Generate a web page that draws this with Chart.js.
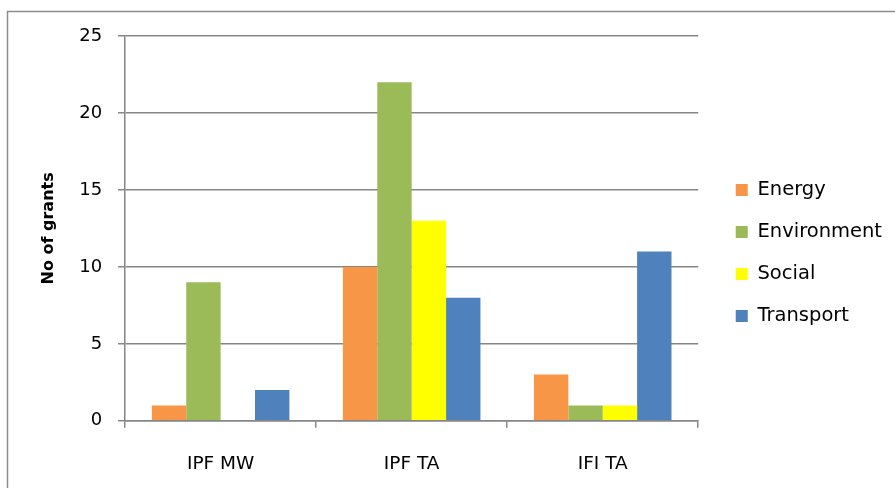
<!DOCTYPE html>
<html>
<head>
<meta charset="utf-8">
<script src="https://cdn.jsdelivr.net/npm/chart.js@4.4.1/dist/chart.umd.min.js"></script>
<style>
html,body{margin:0;padding:0;background:#fff;}
#wrap{width:895px;height:488px;position:relative;}
</style>
</head>
<body>
<div id="wrap"><canvas id="c" width="895" height="488"></canvas></div>
<script>
const categories = ["IPF MW", "IPF TA", "IFI TA"];
const energy = [1, 10, 3];
const environment = [9, 22, 1];
const social = [0, 13, 1];
const transport = [2, 8, 11];
const yTicks = [0, 5, 10, 15, 20, 25];

const LEGEND_SHIFT_X = 15;
const LEGEND_SHIFT_Y = -15;
const frame = {
  id: 'frame',
  beforeDraw(chart) {
    const ctx = chart.ctx;
    if (chart.legend && !chart.legend._shifted) {
      const lg = chart.legend;
      const orig = lg.draw.bind(lg);
      lg.draw = function () {
        lg.ctx.save();
        lg.ctx.translate(LEGEND_SHIFT_X, LEGEND_SHIFT_Y);
        orig();
        lg.ctx.restore();
      };
      lg._shifted = true;
    }
    ctx.save();
    ctx.fillStyle = '#fff';
    ctx.fillRect(0, 0, chart.width, chart.height);
    ctx.strokeStyle = '#8c8c8c';
    ctx.lineWidth = 1.5;
    ctx.strokeRect(7.5, 11.5, chart.width + 20, chart.height + 20);
    ctx.restore();
  }
};

const gridColor = '#868686';
new Chart(document.getElementById('c'), {
  type: 'bar',
  data: {
    labels: categories,
    datasets: [
      { label: 'Energy', data: energy, backgroundColor: '#F79646' },
      { label: 'Environment', data: environment, backgroundColor: '#9BBB59' },
      { label: 'Social', data: social, backgroundColor: '#FFFF00' },
      { label: 'Transport', data: transport, backgroundColor: '#4F81BD' }
    ]
  },
  options: {
    responsive: false,
    animation: false,
    devicePixelRatio: 1,
    layout: { padding: { top: 36, left: 36, right: 18, bottom: -12 } },
    datasets: { bar: { categoryPercentage: 0.72, barPercentage: 1.0, borderWidth: 0 } },
    plugins: {
      legend: {
        position: 'right',
        labels: {
          font: { family: 'DejaVu Sans', size: 19.5 },
          color: '#000',
          boxWidth: 12,
          boxHeight: 12,
          padding: 22.5
        }
      },
      tooltip: { enabled: false }
    },
    scales: {
      x: {
        grid: { display: true, drawOnChartArea: false, drawTicks: true, tickLength: 7, color: gridColor, lineWidth: 1.5 },
        border: { color: gridColor, width: 1.5 },
        ticks: { font: { family: 'DejaVu Sans', size: 18.5 }, color: '#000', padding: 25 }
      },
      y: {
        min: 0, max: 25,
        afterBuildTicks(axis) { axis.ticks = yTicks.map(v => ({ value: v })); },
        grid: { color: gridColor, lineWidth: 1.5, tickLength: 7 },
        border: { color: gridColor, width: 1.5 },
        ticks: { font: { family: 'DejaVu Sans', size: 18 }, color: '#000', padding: 16 },
        title: { display: true, text: 'No of grants', font: { family: 'DejaVu Sans', size: 16, weight: 'bold' }, color: '#000', padding: { top: 3, bottom: 5 } }
      }
    }
  },
  plugins: [frame]
});
</script>
</body>
</html>
